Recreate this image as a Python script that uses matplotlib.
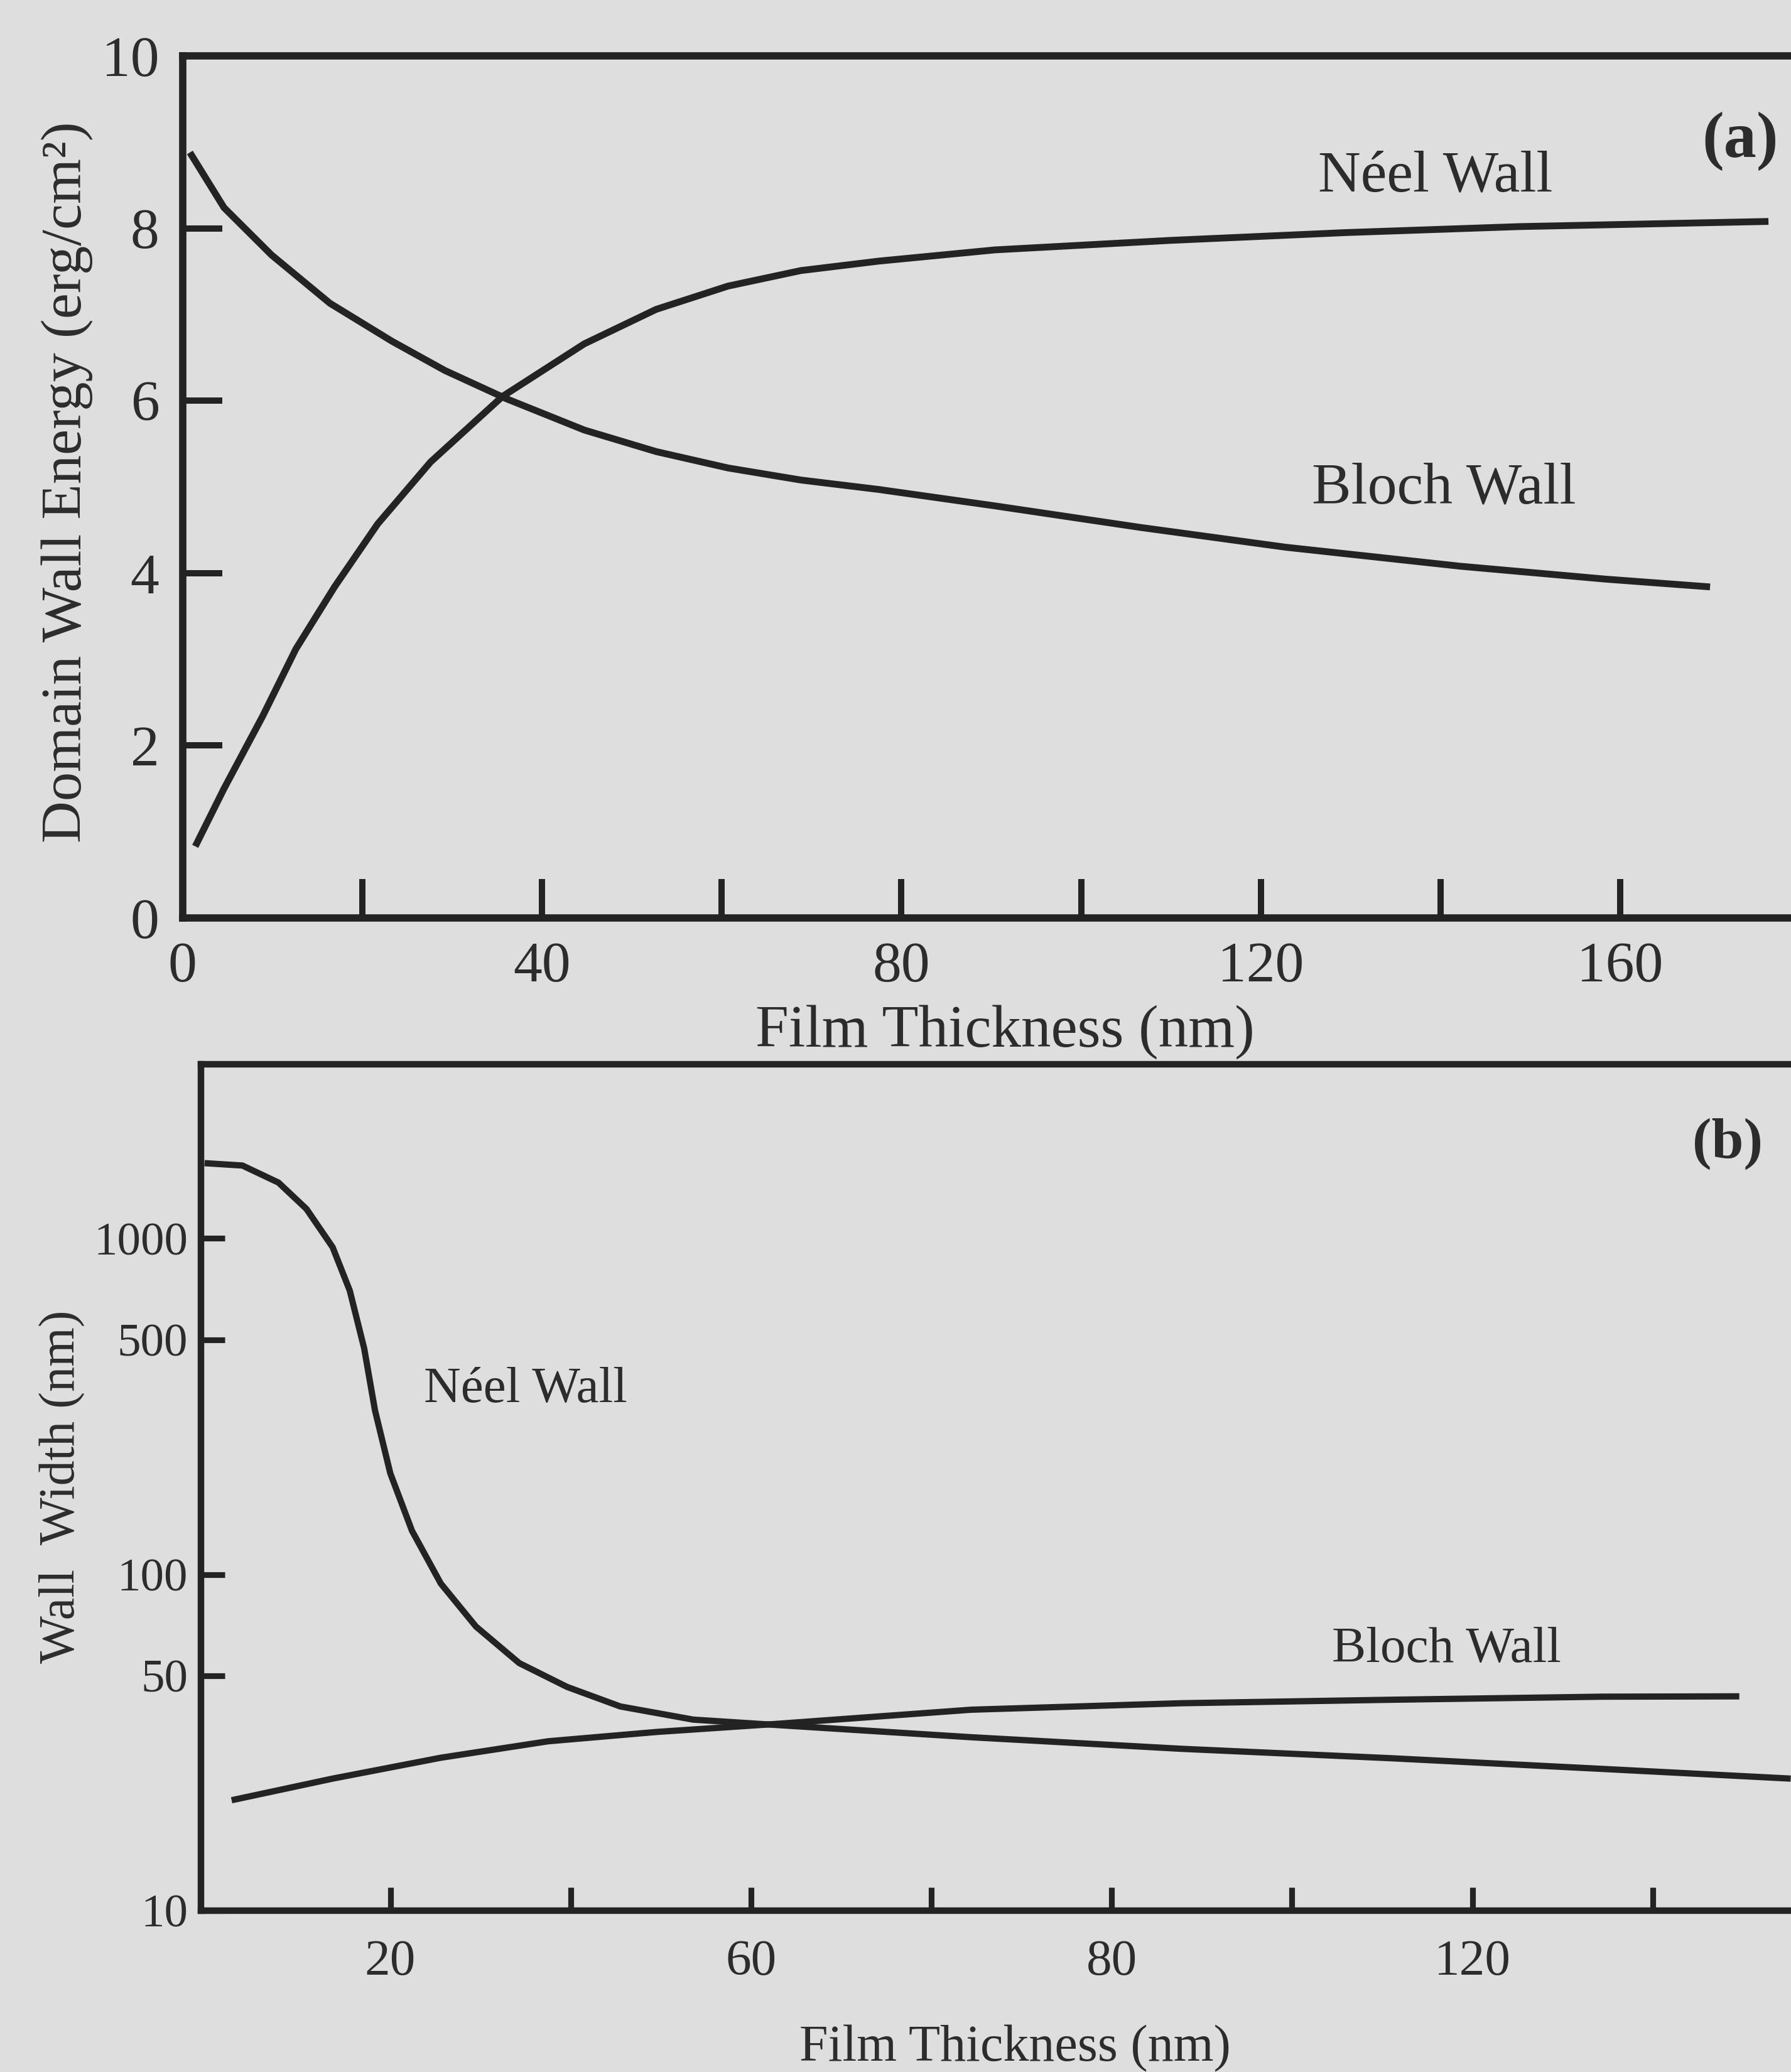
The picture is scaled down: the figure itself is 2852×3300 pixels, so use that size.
import matplotlib
matplotlib.use("Agg")
import matplotlib.pyplot as plt
from matplotlib.ticker import FixedLocator, FixedFormatter, NullLocator

# Domain wall energy and width versus film thickness (Bloch vs Neel walls)

# (a) wall energy, erg/cm^2
neel_a_x = [1.4, 4.6, 8.9, 12.6, 16.9, 21.7, 27.6, 35.6, 44.7, 52.7, 60.7, 68.8,
            77.5, 90.4, 109.9, 129.3, 148.7, 176.5]
neel_a_y = [0.83, 1.50, 2.34, 3.12, 3.84, 4.57, 5.29, 6.05, 6.66, 7.06, 7.33, 7.51,
            7.62, 7.75, 7.86, 7.95, 8.02, 8.08]
bloch_a_x = [0.8, 4.6, 9.9, 16.4, 23.3, 29.2, 36.1, 44.7, 52.7, 60.7, 68.8, 77.5,
             90.4, 106.6, 122.8, 142.2, 158.4, 170.0]
bloch_a_y = [8.88, 8.24, 7.69, 7.13, 6.69, 6.35, 6.02, 5.66, 5.41, 5.22, 5.08, 4.97,
             4.78, 4.53, 4.30, 4.08, 3.93, 3.84]

# (b) wall width, nm (log axis)
neel_b_x = [-0.6, 3.6, 7.6, 10.7, 13.6, 15.5, 17.1, 18.3, 20.0, 22.4, 25.6, 29.5,
            34.3, 39.6, 45.5, 53.6, 62.6, 84.4, 107.7, 131.0, 154.4, 175.3]
neel_b_y = [1675, 1648, 1466, 1224, 942, 700, 471, 308, 200, 135, 94, 70,
            54.5, 46.3, 40.5, 37.0, 35.7, 32.8, 30.3, 28.4, 26.4, 24.7]
bloch_b_x = [2.4, 13.6, 25.6, 37.5, 49.5, 62.6, 84.4, 107.7, 131.0, 154.4, 169.6]
bloch_b_y = [21.3, 24.7, 28.5, 31.9, 34.0, 35.9, 39.6, 41.4, 42.4, 43.3, 43.4]

# axis ticks
ticks_a_x = [0, 20, 40, 60, 80, 100, 120, 140, 160]
labels_a_x = ["0", "", "40", "", "80", "", "120", "", "160"]
ticks_a_y = [0, 2, 4, 6, 8, 10]
labels_a_y = ["0", "2", "4", "6", "8", "10"]
ticks_b_x = [20, 40, 60, 80, 100, 120, 140, 160]
labels_b_x = ["20", "", "60", "", "80", "", "120", ""]
ticks_b_y = [10, 50, 100, 500, 1000]
labels_b_y = ["10", "50", "100", "500", "1000"]

BG = "#dedede"
INK = "#232323"
TXT = "#2c2c2c"
SERIF = ["Liberation Serif", "DejaVu Serif"]

plt.rcParams["font.family"] = SERIF
plt.rcParams["text.color"] = TXT

fig = plt.figure(figsize=(2852 / 300, 3300 / 300), dpi=300, facecolor=BG)
curve = dict(color=INK, solid_capstyle="butt", solid_joinstyle="round")

# ---- panel (a) ----
ax1 = fig.add_axes([0.1020, 0.5570, 0.913, 0.4160], facecolor=BG)
ax1.plot(neel_a_x, neel_a_y, lw=2.6, **curve)
ax1.plot(bloch_a_x, bloch_a_y, lw=2.6, **curve)
ax1.set_xlim(0, 182)
ax1.set_ylim(0, 10)
ax1.xaxis.set_major_locator(FixedLocator(ticks_a_x))
ax1.xaxis.set_major_formatter(FixedFormatter(labels_a_x))
ax1.yaxis.set_major_locator(FixedLocator(ticks_a_y))
ax1.yaxis.set_major_formatter(FixedFormatter(labels_a_y))
ax1.tick_params(axis="both", direction="in", length=15, width=2.4, color=INK,
                labelsize=22, labelcolor=TXT)
ax1.tick_params(axis="x", pad=9)
ax1.tick_params(axis="y", pad=9)
for side in ("left", "bottom", "top"):
    ax1.spines[side].set_linewidth(2.8)
    ax1.spines[side].set_color(INK)
ax1.spines["right"].set_visible(False)

ax1.text(126.4, 8.43, "Néel Wall", fontsize=22.5, ha="left", va="baseline")
ax1.text(125.7, 4.81, "Bloch Wall", fontsize=22.5, ha="left", va="baseline")
ax1.text(177.6, 8.83, "(a)", fontsize=25, fontweight="bold", ha="right", va="baseline")

fig.text(0.0372, 0.7673, "Domain Wall Energy (erg/cm²)", rotation=90,
         ha="center", va="center", fontsize=22.2)
fig.text(0.5610, 0.4948, "Film Thickness (nm)", ha="center", va="baseline",
         fontsize=22.8)

# ---- panel (b) ----
ax2 = fig.add_axes([0.1122, 0.0779, 0.9113, 0.4085], facecolor=BG)
ax2.plot(neel_b_x, neel_b_y, lw=2.4, **curve)
ax2.plot(bloch_b_x, bloch_b_y, lw=2.4, **curve)
ax2.set_yscale("log")
ax2.set_xlim(-1, 180)
ax2.set_ylim(10, 3300)
ax2.xaxis.set_major_locator(FixedLocator(ticks_b_x))
ax2.xaxis.set_major_formatter(FixedFormatter(labels_b_x))
ax2.yaxis.set_major_locator(FixedLocator(ticks_b_y))
ax2.yaxis.set_major_formatter(FixedFormatter(labels_b_y))
ax2.yaxis.set_minor_locator(NullLocator())
ax2.tick_params(axis="both", direction="in", length=9, width=2.2, color=INK,
                labelcolor=TXT)
ax2.tick_params(axis="x", pad=11, labelsize=19.5)
ax2.tick_params(axis="y", pad=5, labelsize=18)
for side in ("left", "bottom", "top"):
    ax2.spines[side].set_linewidth(2.5)
    ax2.spines[side].set_color(INK)
ax2.spines["right"].set_visible(False)

ax2.text(23.7, 326, "Néel Wall", fontsize=19.5, ha="left", va="baseline")
ax2.text(124.4, 55, "Bloch Wall", fontsize=19.5, ha="left", va="baseline")
ax2.text(172.2, 1742, "(b)", fontsize=22, fontweight="bold", ha="right", va="baseline")

fig.text(0.0345, 0.2824, "Wall  Width (nm)", rotation=90, ha="center", va="center",
         fontsize=19.3)
fig.text(0.5666, 0.0052, "Film Thickness (nm)", ha="center", va="baseline",
         fontsize=19.7)

fig.savefig("out.png", dpi=300, facecolor=BG)
